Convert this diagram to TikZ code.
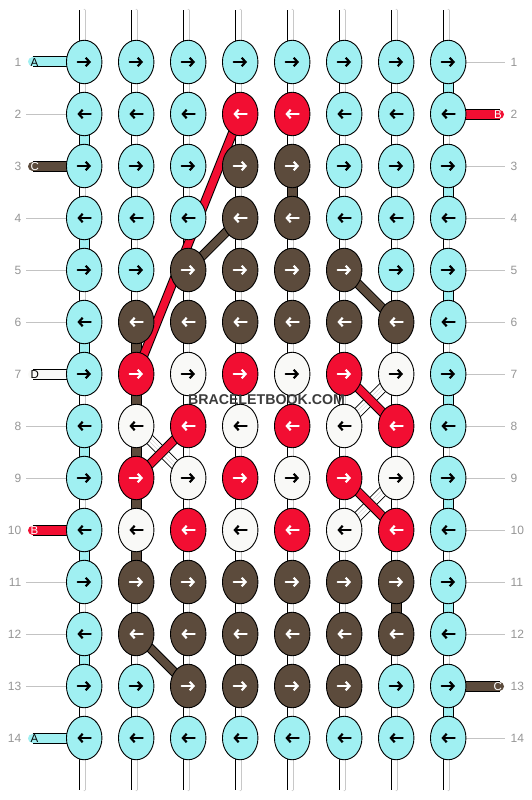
\documentclass[tikz,border=0pt]{standalone}
\usepackage{fontspec}
\setmainfont{Liberation Sans}
\usetikzlibrary{shapes.geometric,arrows.meta}
\definecolor{kc}{RGB}{160,240,242}
\definecolor{kr}{RGB}{242,14,50}
\definecolor{kb}{RGB}{92,75,60}
\definecolor{kw}{RGB}{249,249,247}
\definecolor{akc}{RGB}{0,0,0}
\definecolor{akw}{RGB}{0,0,0}
\definecolor{akr}{RGB}{255,255,255}
\definecolor{akb}{RGB}{255,255,255}
\definecolor{numgray}{RGB}{150,150,150}
\definecolor{linegray}{RGB}{195,195,195}
\definecolor{wmgray}{RGB}{60,60,60}
\definecolor{strandgray}{RGB}{200,200,200}
\pgfdeclarelayer{bg}
\pgfdeclarelayer{conn}
\pgfdeclarelayer{diag}
\pgfsetlayers{bg,conn,diag,main}
\begin{document}
\begin{tikzpicture}[x=1pt,y=-1pt,
  knotnode/.style={ellipse, draw=black, line width=0.9pt, minimum width=35.5pt, minimum height=43.5pt, inner sep=0pt},
  knotarr/.style={line width=2.2pt, line cap=round, line join=round, -{Straight Barb[length=3.8pt,width=8.5pt]}},
  colcord/.style={preaction={draw=black, line width=11pt}, line width=9pt},
  diagcord/.style={preaction={draw=black, line width=9.5pt}, line width=7.5pt},
  basecord/.style={preaction={draw=black, line width=10.5pt}, draw=white, line width=8.6pt,
     postaction={draw=strandgray, line width=0.5pt, double=white, double distance=2.2pt}},
  numlabel/.style={text=numgray, font=\fontsize{12}{12}\selectfont, inner sep=0pt},
  taillabel/.style={font=\fontsize{11.5}{12}\selectfont, inner sep=0pt},
  guide/.style={draw=linegray, line width=0.8pt}]
\useasboundingbox (0,0) rectangle (532,800);
\begin{pgfonlayer}{bg}
  \fill[white] (0,0) rectangle (532,800);
\end{pgfonlayer}
% knots
\foreach \rowi/\rowlist in {1/{c,c,c,c,c,c,c,c},2/{c,c,c,r,r,c,c,c},3/{c,c,c,b,b,c,c,c},4/{c,c,c,b,b,c,c,c},5/{c,c,b,b,b,b,c,c},6/{c,b,b,b,b,b,b,c},7/{c,r,w,r,w,r,w,c},8/{c,w,r,w,r,w,r,c},9/{c,r,w,r,w,r,w,c},10/{c,w,r,w,r,w,r,c},11/{c,b,b,b,b,b,b,c},12/{c,b,b,b,b,b,b,c},13/{c,c,b,b,b,b,c,c},14/{c,c,c,c,c,c,c,c}}{
  \foreach \kk [count=\coli] in \rowlist {
    \node[knotnode, fill=k\kk] (n-\rowi-\coli) at ({32.2+52*\coli},{10+52*\rowi}) {};
    \ifodd\rowi\relax
      \draw[knotarr, draw=ak\kk] ([xshift=-6.5pt]n-\rowi-\coli.center) -- ([xshift=6.8pt]n-\rowi-\coli.center);
    \else
      \draw[knotarr, draw=ak\kk] ([xshift=6.5pt]n-\rowi-\coli.center) -- ([xshift=-6.8pt]n-\rowi-\coli.center);
    \fi
  }
}
% coloured vertical segments
\foreach \coli/\rowi/\kk in {8/1/kc,1/2/kc,8/3/kc,1/4/kc,8/5/kc,1/6/kc,8/7/kc,1/8/kc,8/9/kc,1/10/kc,8/11/kc,1/12/kc,8/13/kc,2/6/kb,2/7/kb,2/8/kb,2/9/kb,2/10/kb,5/3/kb,7/11/kb}{
  \expandafter\xdef\csname vc-\coli-\rowi\endcsname{\kk}
}
\begin{pgfonlayer}{conn}
  % horizontal cords
  \foreach \rowi in {1,...,14}
    \foreach \coli [evaluate=\coli as \colj using int(\coli+1)] in {1,...,7}
      \draw[colcord, draw=kc] (n-\rowi-\coli.center) -- (n-\rowi-\colj.center);
  % vertical cords
  \foreach \coli in {1,...,8}{
    \foreach \rowi [evaluate=\rowi as \rowj using int(\rowi+1)] in {1,...,13}{
      \ifcsname vc-\coli-\rowi\endcsname
        \edef\vcol{\csname vc-\coli-\rowi\endcsname}
        \draw[colcord, draw=\vcol] (n-\rowi-\coli.center) -- (n-\rowj-\coli.center);
      \else
        \draw[basecord] (n-\rowi-\coli.center) -- (n-\rowj-\coli.center);
      \fi
    }
    \coordinate (top-\coli) at ({32.2+52*\coli},10.5);
    \coordinate (bot-\coli) at ({32.2+52*\coli},789.5);
    \draw[basecord, line cap=round] (top-\coli) -- (n-1-\coli.center);
    \draw[basecord, line cap=round] (n-14-\coli.center) -- (bot-\coli);
  }
  % left tails
  \foreach \rowi/\kk/\lbl/\tc in {1/kc/A/black,3/kb/C/white,7/kw/D/black,10/kr/B/white,14/kc/A/black}{
    \coordinate (tl-\rowi) at (32.5,{10+52*\rowi});
    \draw[colcord, draw=\kk, line cap=round] (tl-\rowi) -- (n-\rowi-1.center);
    \node[taillabel, text=\tc, anchor=west] (lt-\rowi) at (30.5,{10.5+52*\rowi}) {\lbl};
  }
  % right tails
  \foreach \rowi/\kk/\lbl/\tc in {2/kr/B/white,13/kb/C/white}{
    \coordinate (tr-\rowi) at (499.5,{10+52*\rowi});
    \draw[colcord, draw=\kk, line cap=round] (n-\rowi-8.center) -- (tr-\rowi);
    \node[taillabel, text=\tc, anchor=east] (rt-\rowi) at (502,{10.5+52*\rowi}) {\lbl};
  }
  % guide lines
  \foreach \rowi in {2,4,5,6,8,9,11,12,13}{
    \coordinate (gl-\rowi) at (26,{10+52*\rowi});
    \draw[guide] (gl-\rowi) -- (n-\rowi-1.west);
  }
  \foreach \rowi in {1,3,4,5,6,7,8,9,10,11,12,14}{
    \coordinate (gr-\rowi) at (505,{10+52*\rowi});
    \draw[guide] (n-\rowi-8.east) -- (gr-\rowi);
  }
\end{pgfonlayer}
\begin{pgfonlayer}{diag}
  \draw[basecord] (n-8-2.center) -- (n-9-3.center);
  \draw[basecord] (n-7-7.center) -- (n-8-6.center);
  \draw[basecord] (n-9-7.center) -- (n-10-6.center);
  \draw[diagcord, draw=kr] (n-2-4.center) -- (n-7-2.center);
  \draw[diagcord, draw=kr] (n-8-3.center) -- (n-9-2.center);
  \draw[diagcord, draw=kr] (n-7-6.center) -- (n-8-7.center);
  \draw[diagcord, draw=kr] (n-9-6.center) -- (n-10-7.center);
  \draw[diagcord, draw=kb] (n-4-4.center) -- (n-5-3.center);
  \draw[diagcord, draw=kb] (n-5-6.center) -- (n-6-7.center);
  \draw[diagcord, draw=kb] (n-12-2.center) -- (n-13-3.center);
\end{pgfonlayer}
% row numbers
\foreach \rowi in {1,...,14}{
  \node[numlabel, anchor=east] (ln-\rowi) at (21.5,{10+52*\rowi}) {\rowi};
  \node[numlabel, anchor=west] (rn-\rowi) at (510.5,{10+52*\rowi}) {\rowi};
}
\node[font=\bfseries\fontsize{14.2}{14}\selectfont, text=wmgray, inner sep=0pt] (wm) at (266.5,399.5) {BRACELETBOOK.COM};
\end{tikzpicture}
\end{document}
